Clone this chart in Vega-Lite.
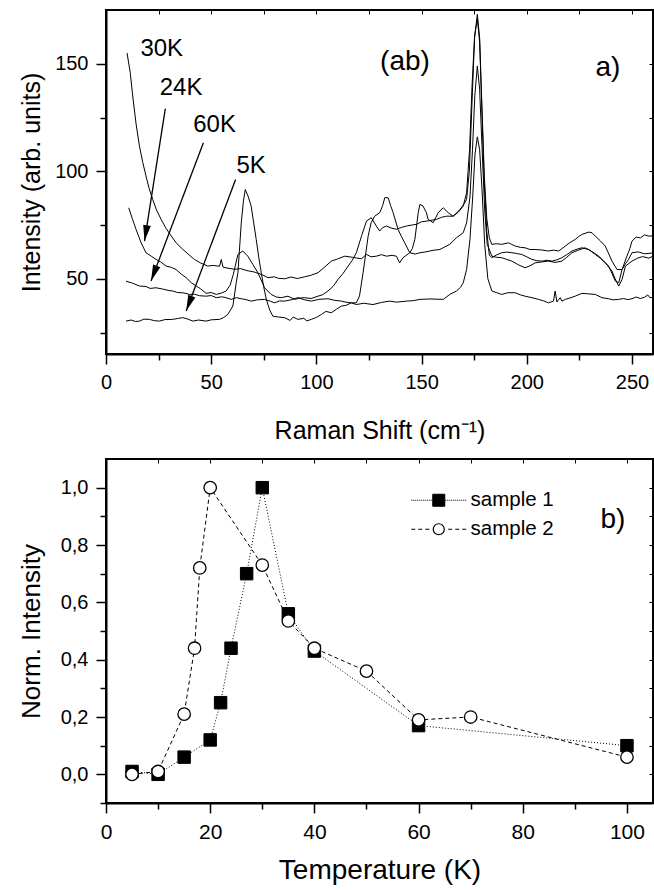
{
  "$schema": "https://vega.github.io/schema/vega-lite/v6.json",
  "padding": {"left": 17, "top": 8, "right": 2, "bottom": 5},
  "bounds": "flush",
  "spacing": 105,
  "config": {
    "font": "Liberation Sans",
    "view": {"stroke": "black", "strokeWidth": 2},
    "axis": {"domainColor": "black", "domainWidth": 2, "tickColor": "black", "tickWidth": 1.5, "labelColor": "black", "titleColor": "black", "labelFont": "Liberation Sans", "titleFont": "Liberation Sans", "titleFontWeight": "normal", "grid": false, "labelFlush": false, "labelOverlap": false},
    "legend": {"labelFont": "Liberation Sans", "labelColor": "black"},
    "text": {"font": "Liberation Sans", "color": "black"}
  },
  "datasets": {
    "spectra": [
      {"T":"30K","shift":10,"int":155},{"T":"30K","shift":11.5,"int":146},{"T":"30K","shift":12.7,"int":135},{"T":"30K","shift":14.3,"int":122},{"T":"30K","shift":15.9,"int":111.7},{"T":"30K","shift":17.5,"int":104},{"T":"30K","shift":19,"int":97.8},{"T":"30K","shift":20.5,"int":92},{"T":"30K","shift":22.2,"int":86.9},{"T":"30K","shift":24,"int":82},{"T":"30K","shift":26.2,"int":77.6},{"T":"30K","shift":28.5,"int":73.5},{"T":"30K","shift":31,"int":69.9},{"T":"30K","shift":33.5,"int":66.5},{"T":"30K","shift":36.5,"int":63.7},{"T":"30K","shift":39,"int":61.5},{"T":"30K","shift":42,"int":59},{"T":"30K","shift":45,"int":57.3},{"T":"30K","shift":48.4,"int":55.9},{"T":"30K","shift":51,"int":56.2},{"T":"30K","shift":54,"int":55.8},{"T":"30K","shift":54.8,"int":59},{"T":"30K","shift":55.6,"int":55.4},{"T":"30K","shift":58,"int":54.9},{"T":"30K","shift":61.1,"int":54.4},{"T":"30K","shift":64,"int":54.7},{"T":"30K","shift":67,"int":53.8},{"T":"30K","shift":70.6,"int":53.1},{"T":"30K","shift":74,"int":52},{"T":"30K","shift":77,"int":50.5},{"T":"30K","shift":80,"int":50.9},{"T":"30K","shift":82,"int":50.2},{"T":"30K","shift":84.9,"int":50},{"T":"30K","shift":88,"int":50.8},{"T":"30K","shift":91,"int":50.1},{"T":"30K","shift":94.4,"int":50.9},{"T":"30K","shift":97,"int":51.5},{"T":"30K","shift":100.8,"int":52.8},{"T":"30K","shift":104,"int":55.5},{"T":"30K","shift":107.1,"int":58.2},{"T":"30K","shift":110,"int":59.2},{"T":"30K","shift":113.5,"int":60.5},{"T":"30K","shift":117,"int":60},{"T":"30K","shift":121.4,"int":59.3},{"T":"30K","shift":123.8,"int":61.3},{"T":"30K","shift":126,"int":60.2},{"T":"30K","shift":128.5,"int":60.5},{"T":"30K","shift":131,"int":61.2},{"T":"30K","shift":133.3,"int":60.5},{"T":"30K","shift":136,"int":60.9},{"T":"30K","shift":138,"int":60.5},{"T":"30K","shift":139.6,"int":57.4},{"T":"30K","shift":141.2,"int":59.8},{"T":"30K","shift":144.4,"int":62.1},{"T":"30K","shift":147,"int":61.5},{"T":"30K","shift":149.2,"int":62.1},{"T":"30K","shift":151.5,"int":62.4},{"T":"30K","shift":153.9,"int":62.9},{"T":"30K","shift":156,"int":63.3},{"T":"30K","shift":158.7,"int":63.6},{"T":"30K","shift":161,"int":64.8},{"T":"30K","shift":163.4,"int":66},{"T":"30K","shift":166.6,"int":69.1},{"T":"30K","shift":169.8,"int":71.4},{"T":"30K","shift":171.4,"int":76},{"T":"30K","shift":173,"int":88},{"T":"30K","shift":174.2,"int":110},{"T":"30K","shift":175.3,"int":135},{"T":"30K","shift":176.5,"int":149},{"T":"30K","shift":177.6,"int":138},{"T":"30K","shift":178.7,"int":112},{"T":"30K","shift":180,"int":82},{"T":"30K","shift":181.2,"int":66},{"T":"30K","shift":183.4,"int":60.5},{"T":"30K","shift":185.5,"int":60},{"T":"30K","shift":188.1,"int":59.8},{"T":"30K","shift":190.5,"int":59},{"T":"30K","shift":192.9,"int":58.2},{"T":"30K","shift":196,"int":56.5},{"T":"30K","shift":199.2,"int":55.1},{"T":"30K","shift":201.5,"int":56},{"T":"30K","shift":204,"int":57.4},{"T":"30K","shift":207,"int":57.8},{"T":"30K","shift":210.3,"int":58.2},{"T":"30K","shift":213.5,"int":57.6},{"T":"30K","shift":216.7,"int":58.2},{"T":"30K","shift":219,"int":60},{"T":"30K","shift":221.5,"int":62.1},{"T":"30K","shift":224.5,"int":63.3},{"T":"30K","shift":227.8,"int":64.4},{"T":"30K","shift":230,"int":63.2},{"T":"30K","shift":232.6,"int":61.3},{"T":"30K","shift":235,"int":59.5},{"T":"30K","shift":237.3,"int":57.4},{"T":"30K","shift":240.5,"int":53.6},{"T":"30K","shift":242,"int":50},{"T":"30K","shift":243.7,"int":46.6},{"T":"30K","shift":245.3,"int":49.7},{"T":"30K","shift":246.9,"int":55.9},{"T":"30K","shift":250,"int":58.2},{"T":"30K","shift":252.5,"int":59.5},{"T":"30K","shift":255,"int":60.3},{"T":"30K","shift":258,"int":59.6},{"T":"30K","shift":260,"int":60.5},
      {"T":"24K","shift":10.8,"int":83},{"T":"24K","shift":12.5,"int":78},{"T":"24K","shift":14.3,"int":72.9},{"T":"24K","shift":16.7,"int":66.7},{"T":"24K","shift":19,"int":62.1},{"T":"24K","shift":21.5,"int":60.5},{"T":"24K","shift":23.8,"int":59},{"T":"24K","shift":26,"int":57.8},{"T":"24K","shift":28.6,"int":55.9},{"T":"24K","shift":31,"int":55.3},{"T":"24K","shift":33.3,"int":54.3},{"T":"24K","shift":35.7,"int":52.2},{"T":"24K","shift":38.1,"int":50.5},{"T":"24K","shift":40.5,"int":48.2},{"T":"24K","shift":42.9,"int":46.6},{"T":"24K","shift":45,"int":45.3},{"T":"24K","shift":47.6,"int":43.2},{"T":"24K","shift":50,"int":43.6},{"T":"24K","shift":52.4,"int":42.7},{"T":"24K","shift":55,"int":43.4},{"T":"24K","shift":57.1,"int":44.3},{"T":"24K","shift":59,"int":47},{"T":"24K","shift":60.5,"int":52},{"T":"24K","shift":62.7,"int":61.3},{"T":"24K","shift":65,"int":62.9},{"T":"24K","shift":67.4,"int":60.5},{"T":"24K","shift":69.8,"int":56.7},{"T":"24K","shift":72.2,"int":52.8},{"T":"24K","shift":75.4,"int":45.8},{"T":"24K","shift":78.5,"int":42.7},{"T":"24K","shift":81,"int":41.5},{"T":"24K","shift":83.3,"int":41.2},{"T":"24K","shift":86.5,"int":41.9},{"T":"24K","shift":89.7,"int":40.4},{"T":"24K","shift":92,"int":41},{"T":"24K","shift":94.4,"int":41.2},{"T":"24K","shift":97.5,"int":40.8},{"T":"24K","shift":100.8,"int":41.9},{"T":"24K","shift":103,"int":42.6},{"T":"24K","shift":105.5,"int":44.3},{"T":"24K","shift":108,"int":46.5},{"T":"24K","shift":110.3,"int":49.7},{"T":"24K","shift":112.7,"int":52.5},{"T":"24K","shift":115.1,"int":55.9},{"T":"24K","shift":117,"int":58.5},{"T":"24K","shift":119,"int":62.1},{"T":"24K","shift":121.5,"int":70},{"T":"24K","shift":123.8,"int":76.8},{"T":"24K","shift":126.1,"int":78.4},{"T":"24K","shift":128.5,"int":74.5},{"T":"24K","shift":130.1,"int":72.2},{"T":"24K","shift":131.5,"int":73.8},{"T":"24K","shift":133.3,"int":74.5},{"T":"24K","shift":135.5,"int":73.6},{"T":"24K","shift":138,"int":73},{"T":"24K","shift":140.5,"int":73.9},{"T":"24K","shift":142.8,"int":74.5},{"T":"24K","shift":145,"int":74.9},{"T":"24K","shift":147.6,"int":75.3},{"T":"24K","shift":150,"int":76.5},{"T":"24K","shift":152.3,"int":76.8},{"T":"24K","shift":154.5,"int":77.2},{"T":"24K","shift":157.1,"int":77.6},{"T":"24K","shift":159.5,"int":78.6},{"T":"24K","shift":161.9,"int":79.1},{"T":"24K","shift":165,"int":79.1},{"T":"24K","shift":167.5,"int":81},{"T":"24K","shift":169.8,"int":83.8},{"T":"24K","shift":171.4,"int":90},{"T":"24K","shift":172.8,"int":110},{"T":"24K","shift":174,"int":140},{"T":"24K","shift":175.2,"int":163},{"T":"24K","shift":176.5,"int":171},{"T":"24K","shift":177.6,"int":160},{"T":"24K","shift":178.6,"int":130},{"T":"24K","shift":179.8,"int":95},{"T":"24K","shift":181,"int":72},{"T":"24K","shift":182.2,"int":61},{"T":"24K","shift":183.4,"int":59.8},{"T":"24K","shift":185.5,"int":61},{"T":"24K","shift":188.1,"int":62.1},{"T":"24K","shift":190.5,"int":62.4},{"T":"24K","shift":192.9,"int":62.1},{"T":"24K","shift":195,"int":61.8},{"T":"24K","shift":197.6,"int":61.3},{"T":"24K","shift":200,"int":60.2},{"T":"24K","shift":202.4,"int":59},{"T":"24K","shift":204.8,"int":58.4},{"T":"24K","shift":207.2,"int":58.2},{"T":"24K","shift":209.6,"int":58.6},{"T":"24K","shift":212,"int":58.2},{"T":"24K","shift":214.3,"int":58.8},{"T":"24K","shift":216.7,"int":59.8},{"T":"24K","shift":219,"int":61.2},{"T":"24K","shift":221.5,"int":62.9},{"T":"24K","shift":224,"int":63.8},{"T":"24K","shift":226.2,"int":64.4},{"T":"24K","shift":229.4,"int":63.6},{"T":"24K","shift":232,"int":62},{"T":"24K","shift":234.2,"int":60.5},{"T":"24K","shift":236.5,"int":58.3},{"T":"24K","shift":238.9,"int":55.9},{"T":"24K","shift":240.5,"int":52.5},{"T":"24K","shift":242.1,"int":48.9},{"T":"24K","shift":243.7,"int":48.1},{"T":"24K","shift":245.3,"int":54.3},{"T":"24K","shift":246.9,"int":57},{"T":"24K","shift":248.4,"int":59},{"T":"24K","shift":250,"int":62.1},{"T":"24K","shift":253,"int":62.5},{"T":"24K","shift":256,"int":61.6},{"T":"24K","shift":260,"int":62},
      {"T":"60K","shift":9.5,"int":48.9},{"T":"60K","shift":12.5,"int":48},{"T":"60K","shift":15.9,"int":46.6},{"T":"60K","shift":19,"int":46.4},{"T":"60K","shift":21,"int":45.5},{"T":"60K","shift":23.8,"int":45.8},{"T":"60K","shift":27,"int":45.2},{"T":"60K","shift":29.5,"int":44.6},{"T":"60K","shift":31.7,"int":44.3},{"T":"60K","shift":34,"int":43.6},{"T":"60K","shift":37,"int":43.4},{"T":"60K","shift":39.7,"int":42.7},{"T":"60K","shift":42,"int":42.8},{"T":"60K","shift":44.5,"int":42.1},{"T":"60K","shift":47.6,"int":41.9},{"T":"60K","shift":50,"int":42.2},{"T":"60K","shift":52.4,"int":41.2},{"T":"60K","shift":55,"int":41.6},{"T":"60K","shift":57,"int":41.2},{"T":"60K","shift":59.5,"int":40.4},{"T":"60K","shift":61.9,"int":41.2},{"T":"60K","shift":64.3,"int":40.7},{"T":"60K","shift":66.5,"int":40.3},{"T":"60K","shift":69,"int":39.6},{"T":"60K","shift":72,"int":40.2},{"T":"60K","shift":75.4,"int":40.4},{"T":"60K","shift":78,"int":39.6},{"T":"60K","shift":80.1,"int":38.8},{"T":"60K","shift":82.5,"int":39.7},{"T":"60K","shift":84.9,"int":39.6},{"T":"60K","shift":88,"int":40.2},{"T":"60K","shift":91.2,"int":41.2},{"T":"60K","shift":94.5,"int":40.2},{"T":"60K","shift":97.6,"int":39.6},{"T":"60K","shift":101,"int":40.4},{"T":"60K","shift":105.5,"int":40.7},{"T":"60K","shift":108.5,"int":40},{"T":"60K","shift":111.9,"int":39.6},{"T":"60K","shift":114,"int":39.1},{"T":"60K","shift":116.6,"int":38.8},{"T":"60K","shift":119,"int":38},{"T":"60K","shift":122.5,"int":38.6},{"T":"60K","shift":126.9,"int":38},{"T":"60K","shift":131,"int":39},{"T":"60K","shift":134.9,"int":39.6},{"T":"60K","shift":138,"int":39.1},{"T":"60K","shift":142.8,"int":39.6},{"T":"60K","shift":146,"int":39.8},{"T":"60K","shift":149.2,"int":40.4},{"T":"60K","shift":154,"int":40.6},{"T":"60K","shift":160.3,"int":40.4},{"T":"60K","shift":163.4,"int":42.7},{"T":"60K","shift":166.6,"int":44.3},{"T":"60K","shift":168.5,"int":46},{"T":"60K","shift":169.8,"int":48.1},{"T":"60K","shift":171.4,"int":54.3},{"T":"60K","shift":173,"int":68.3},{"T":"60K","shift":174.3,"int":88},{"T":"60K","shift":175.4,"int":108},{"T":"60K","shift":176.5,"int":116},{"T":"60K","shift":177.6,"int":110},{"T":"60K","shift":178.7,"int":92},{"T":"60K","shift":180,"int":66},{"T":"60K","shift":181.5,"int":50},{"T":"60K","shift":183.4,"int":44.3},{"T":"60K","shift":185.5,"int":43.6},{"T":"60K","shift":188.1,"int":42.7},{"T":"60K","shift":191,"int":43.5},{"T":"60K","shift":194.5,"int":43.5},{"T":"60K","shift":197,"int":42.5},{"T":"60K","shift":199.2,"int":41.9},{"T":"60K","shift":202,"int":41.3},{"T":"60K","shift":205.6,"int":40.4},{"T":"60K","shift":208,"int":39.7},{"T":"60K","shift":210.3,"int":38.8},{"T":"60K","shift":212.7,"int":39.6},{"T":"60K","shift":213.5,"int":44.3},{"T":"60K","shift":214.3,"int":39.2},{"T":"60K","shift":215.9,"int":41.2},{"T":"60K","shift":216.7,"int":39.6},{"T":"60K","shift":218.3,"int":40.4},{"T":"60K","shift":221,"int":41.2},{"T":"60K","shift":223,"int":41.9},{"T":"60K","shift":226.2,"int":43.2},{"T":"60K","shift":229,"int":43},{"T":"60K","shift":232.6,"int":42.7},{"T":"60K","shift":235.7,"int":41.2},{"T":"60K","shift":238.9,"int":40.7},{"T":"60K","shift":241,"int":40.2},{"T":"60K","shift":243.7,"int":40.4},{"T":"60K","shift":246,"int":40.8},{"T":"60K","shift":248,"int":40.3},{"T":"60K","shift":250,"int":40.7},{"T":"60K","shift":252,"int":41.5},{"T":"60K","shift":254,"int":40.8},{"T":"60K","shift":256,"int":41.4},{"T":"60K","shift":257.5,"int":42.5},{"T":"60K","shift":258.5,"int":41.2},{"T":"60K","shift":260,"int":41.3},
      {"T":"5K","shift":9.5,"int":30.3},{"T":"5K","shift":12,"int":30.8},{"T":"5K","shift":14,"int":30.1},{"T":"5K","shift":15.9,"int":30.3},{"T":"5K","shift":18,"int":31.2},{"T":"5K","shift":20.6,"int":31.1},{"T":"5K","shift":23,"int":30.5},{"T":"5K","shift":25.4,"int":30.3},{"T":"5K","shift":28,"int":31},{"T":"5K","shift":31.7,"int":31.1},{"T":"5K","shift":34,"int":31.5},{"T":"5K","shift":36.5,"int":31.9},{"T":"5K","shift":39,"int":31.2},{"T":"5K","shift":41.3,"int":30.3},{"T":"5K","shift":44,"int":30.8},{"T":"5K","shift":47.6,"int":30.3},{"T":"5K","shift":50,"int":30.9},{"T":"5K","shift":54,"int":31.1},{"T":"5K","shift":56,"int":32},{"T":"5K","shift":57.9,"int":33.4},{"T":"5K","shift":60.3,"int":37.3},{"T":"5K","shift":61.9,"int":48.1},{"T":"5K","shift":62.7,"int":52.8},{"T":"5K","shift":64.3,"int":76},{"T":"5K","shift":65.3,"int":86},{"T":"5K","shift":66.2,"int":91.5},{"T":"5K","shift":67.5,"int":88.5},{"T":"5K","shift":69,"int":83.8},{"T":"5K","shift":70.2,"int":76},{"T":"5K","shift":71.4,"int":68.3},{"T":"5K","shift":72.6,"int":60},{"T":"5K","shift":73.8,"int":52.8},{"T":"5K","shift":75,"int":46},{"T":"5K","shift":76.2,"int":40.4},{"T":"5K","shift":77.8,"int":35.5},{"T":"5K","shift":79.3,"int":32.6},{"T":"5K","shift":82,"int":32.2},{"T":"5K","shift":84.9,"int":31.9},{"T":"5K","shift":87.5,"int":30.6},{"T":"5K","shift":89,"int":32.2},{"T":"5K","shift":91.2,"int":31.1},{"T":"5K","shift":94,"int":31.6},{"T":"5K","shift":95.5,"int":30.4},{"T":"5K","shift":97.6,"int":31.1},{"T":"5K","shift":100,"int":32},{"T":"5K","shift":102.4,"int":33.4},{"T":"5K","shift":104.5,"int":34.8},{"T":"5K","shift":107.1,"int":34.2},{"T":"5K","shift":109.5,"int":35.8},{"T":"5K","shift":111.9,"int":37.3},{"T":"5K","shift":114,"int":37.6},{"T":"5K","shift":116.6,"int":38.8},{"T":"5K","shift":119,"int":38.8},{"T":"5K","shift":120.5,"int":42},{"T":"5K","shift":122.2,"int":52.8},{"T":"5K","shift":124.6,"int":69.8},{"T":"5K","shift":126,"int":76},{"T":"5K","shift":127.7,"int":79.1},{"T":"5K","shift":130.1,"int":80.7},{"T":"5K","shift":131.5,"int":84},{"T":"5K","shift":132.5,"int":87.7},{"T":"5K","shift":134.1,"int":87.7},{"T":"5K","shift":135.3,"int":84},{"T":"5K","shift":136.5,"int":80.7},{"T":"5K","shift":138.8,"int":73},{"T":"5K","shift":140.5,"int":69.5},{"T":"5K","shift":142,"int":66.7},{"T":"5K","shift":144.4,"int":62.1},{"T":"5K","shift":145.6,"int":64},{"T":"5K","shift":146.8,"int":68.3},{"T":"5K","shift":148.4,"int":80.7},{"T":"5K","shift":149.2,"int":84.6},{"T":"5K","shift":150.7,"int":83.8},{"T":"5K","shift":152.3,"int":80.7},{"T":"5K","shift":153.1,"int":77.6},{"T":"5K","shift":155.5,"int":76.1},{"T":"5K","shift":157.9,"int":80.7},{"T":"5K","shift":160.3,"int":83},{"T":"5K","shift":162.7,"int":80.7},{"T":"5K","shift":165,"int":79.1},{"T":"5K","shift":166.6,"int":80.5},{"T":"5K","shift":168.2,"int":82.2},{"T":"5K","shift":170,"int":84.5},{"T":"5K","shift":171.4,"int":86.9},{"T":"5K","shift":172.7,"int":100},{"T":"5K","shift":173.9,"int":130},{"T":"5K","shift":175.2,"int":162},{"T":"5K","shift":176.5,"int":173},{"T":"5K","shift":177.6,"int":162},{"T":"5K","shift":178.6,"int":133},{"T":"5K","shift":179.8,"int":98},{"T":"5K","shift":181,"int":78},{"T":"5K","shift":182.2,"int":69},{"T":"5K","shift":183.4,"int":66},{"T":"5K","shift":185.5,"int":66.3},{"T":"5K","shift":188.1,"int":66},{"T":"5K","shift":191.3,"int":66.7},{"T":"5K","shift":192.8,"int":66},{"T":"5K","shift":194.5,"int":65.2},{"T":"5K","shift":197,"int":64.6},{"T":"5K","shift":199.2,"int":64.4},{"T":"5K","shift":201.5,"int":63.6},{"T":"5K","shift":204,"int":63.6},{"T":"5K","shift":207,"int":63.4},{"T":"5K","shift":210.3,"int":62.9},{"T":"5K","shift":212.6,"int":63.3},{"T":"5K","shift":215.1,"int":62.9},{"T":"5K","shift":216.7,"int":64},{"T":"5K","shift":218.3,"int":65.2},{"T":"5K","shift":220.5,"int":66.8},{"T":"5K","shift":223,"int":68.3},{"T":"5K","shift":224.6,"int":69.6},{"T":"5K","shift":226.2,"int":70.6},{"T":"5K","shift":229.4,"int":71.7},{"T":"5K","shift":231,"int":71.4},{"T":"5K","shift":232.6,"int":69.8},{"T":"5K","shift":235,"int":67.6},{"T":"5K","shift":237.3,"int":65.2},{"T":"5K","shift":239,"int":61.5},{"T":"5K","shift":240.5,"int":58.2},{"T":"5K","shift":242.9,"int":54.3},{"T":"5K","shift":245.3,"int":54.3},{"T":"5K","shift":247.6,"int":60.5},{"T":"5K","shift":249,"int":64},{"T":"5K","shift":250,"int":67.5},{"T":"5K","shift":252,"int":69.4},{"T":"5K","shift":254,"int":69},{"T":"5K","shift":256,"int":70.4},{"T":"5K","shift":258,"int":69.8},{"T":"5K","shift":260,"int":70}
    ],
    "arrows": [
      {"label":"24K","x0":28.2,"y0":129.1,"x1":18.3,"y1":67.5},
      {"label":"60K","x0":46.3,"y0":113.3,"x1":21.4,"y1":49},
      {"label":"5K","x0":61.6,"y0":96.2,"x1":38.1,"y1":35}
    ],
    "notes_a": [
      {"shift":26.5,"int":157,"label":"30K"},
      {"shift":35.7,"int":138.8,"label":"24K"},
      {"shift":51.6,"int":121.3,"label":"60K"},
      {"shift":69,"int":102.4,"label":"5K"},
      {"shift":142.1,"int":150.9,"label":"(ab)"},
      {"shift":238.6,"int":148.1,"label":"a)"}
    ],
    "temps": [
      {"sample":"sample 1","temp":5,"norm":0.01},{"sample":"sample 1","temp":10,"norm":0.0},{"sample":"sample 1","temp":15,"norm":0.06},{"sample":"sample 1","temp":20,"norm":0.12},{"sample":"sample 1","temp":22,"norm":0.25},{"sample":"sample 1","temp":24,"norm":0.44},{"sample":"sample 1","temp":27,"norm":0.70},{"sample":"sample 1","temp":30,"norm":1.0},{"sample":"sample 1","temp":35,"norm":0.56},{"sample":"sample 1","temp":40,"norm":0.43},{"sample":"sample 1","temp":60,"norm":0.17},{"sample":"sample 1","temp":100,"norm":0.10},
      {"sample":"sample 2","temp":5,"norm":0.0},{"sample":"sample 2","temp":10,"norm":0.01},{"sample":"sample 2","temp":15,"norm":0.21},{"sample":"sample 2","temp":17,"norm":0.44},{"sample":"sample 2","temp":18,"norm":0.72},{"sample":"sample 2","temp":20,"norm":1.0},{"sample":"sample 2","temp":30,"norm":0.73},{"sample":"sample 2","temp":35,"norm":0.535},{"sample":"sample 2","temp":40,"norm":0.44},{"sample":"sample 2","temp":50,"norm":0.36},{"sample":"sample 2","temp":60,"norm":0.19},{"sample":"sample 2","temp":70,"norm":0.2},{"sample":"sample 2","temp":100,"norm":0.06}
    ],
    "notes_b": [
      {"temp":97.3,"norm":0.888,"label":"b)"}
    ]
  },
  "vconcat": [
    {
      "width": 547,
      "height": 344,
      "resolve": {"axis": {"x": "independent", "y": "independent"}},
      "layer": [
        {
          "data": {"name": "spectra"},
          "mark": {"type": "line", "color": "black", "strokeWidth": 1},
          "encoding": {
            "x": {"field": "shift", "type": "quantitative", "scale": {"domain": [0, 260], "nice": false, "zero": false},
              "axis": {"orient": "bottom", "title": "Raman Shift (cm⁻¹)", "values": [0,25,50,75,100,125,150,175,200,225,250],
                "labelExpr": "datum.value % 50 === 0 ? datum.label : ''",
                "tickSize": {"condition": {"test": "datum.value % 50 === 0", "value": 10}, "value": 6},
                "labelFontSize": 20, "labelPadding": 8, "titleFontSize": 25, "titleY": 76, "titleBaseline": "middle"}},
            "y": {"field": "int", "type": "quantitative", "scale": {"domain": [15, 175], "nice": false, "zero": false},
              "axis": {"orient": "left", "title": "Intensity (arb. units)", "values": [25,50,75,100,125,150],
                "labelExpr": "datum.value % 50 === 0 ? datum.label : ''",
                "tickSize": {"condition": {"test": "datum.value % 50 === 0", "value": 10}, "value": 6},
                "labelFontSize": 20, "labelPadding": 8, "titleFontSize": 25, "titleX": -75, "titleY": 172, "titleBaseline": "middle"}},
            "detail": {"field": "T", "type": "nominal"}
          }
        },
        {
          "data": {"name": "notes_a"},
          "mark": {"type": "text", "align": "center", "baseline": "middle"},
          "encoding": {
            "x": {"field": "shift", "type": "quantitative", "scale": {"domain": [0, 260], "nice": false, "zero": false},
              "axis": {"orient": "top", "labels": false, "title": null, "domain": false, "tickSize": -4, "tickWidth": 1, "values": [25,50,75,100,125,150,175,200,225,250]}},
            "y": {"field": "int", "type": "quantitative", "scale": {"domain": [15, 175], "nice": false, "zero": false},
              "axis": {"orient": "right", "labels": false, "title": null, "domain": false, "tickSize": -4, "tickWidth": 1, "values": [25,50,75,100,125,150]}},
            "text": {"field": "label", "type": "nominal"},
            "size": {"condition": {"test": "datum.label === '(ab)' || datum.label === 'a)'", "value": 28}, "value": 24}
          }
        },
        {
          "data": {"name": "arrows"},
          "mark": {"type": "rule", "color": "black", "strokeWidth": 1.3},
          "encoding": {
            "x": {"field": "x0", "type": "quantitative", "scale": {"domain": [0, 260], "nice": false, "zero": false}, "axis": null},
            "y": {"field": "y0", "type": "quantitative", "scale": {"domain": [15, 175], "nice": false, "zero": false}, "axis": null},
            "x2": {"field": "x1"},
            "y2": {"field": "y1"}
          }
        },
        {
          "data": {"name": "arrows"},
          "mark": {"type": "point", "shape": "M0,0L0.24,1L-0.24,1Z", "filled": true, "color": "black", "opacity": 1, "size": 1024},
          "encoding": {
            "x": {"field": "x1", "type": "quantitative", "scale": {"domain": [0, 260], "nice": false, "zero": false}, "axis": null},
            "y": {"field": "y1", "type": "quantitative", "scale": {"domain": [15, 175], "nice": false, "zero": false}, "axis": null},
            "angle": {"condition": {"test": "datum.label === '24K'", "value": 189}, "value": 200.7}
          }
        }
      ]
    },
    {
      "width": 547,
      "height": 344,
      "resolve": {"axis": {"x": "independent", "y": "independent"}, "scale": {"stroke": "independent"}, "legend": {"stroke": "independent"}},
      "layer": [
        {
          "data": {"name": "temps"},
          "transform": [{"filter": "datum.sample === 'sample 1'"}],
          "mark": {"type": "line", "color": "black", "strokeWidth": 1, "strokeDash": [1, 2]},
          "encoding": {
            "x": {"field": "temp", "type": "quantitative", "scale": {"domain": [0, 105], "nice": false, "zero": false},
              "axis": {"orient": "bottom", "title": "Temperature (K)", "values": [0,10,20,30,40,50,60,70,80,90,100],
                "labelExpr": "datum.value % 20 === 0 ? datum.label : ''",
                "tickSize": {"condition": {"test": "datum.value % 20 === 0", "value": 10}, "value": 6},
                "labelFontSize": 21, "labelPadding": 8, "titleFontSize": 28, "titleY": 67, "titleBaseline": "middle"}},
            "y": {"field": "norm", "type": "quantitative", "scale": {"domain": [-0.1, 1.1], "nice": false, "zero": false},
              "axis": {"orient": "left", "title": "Norm. Intensity", "values": [-0.1,0,0.1,0.2,0.3,0.4,0.5,0.6,0.7,0.8,0.9,1.0],
                "labelExpr": "abs(round(datum.value*10)) % 2 === 0 ? replace(format(datum.value, '.1f'), '.', ',') : ''",
                "tickSize": {"condition": {"test": "abs(round(datum.value*10)) % 2 === 0", "value": 10}, "value": 6},
                "labelFontSize": 20, "labelPadding": 8, "titleFontSize": 26, "titleX": -75, "titleY": 172, "titleBaseline": "middle"}}
          }
        },
        {
          "data": {"name": "temps"},
          "transform": [{"filter": "datum.sample === 'sample 2'"}],
          "mark": {"type": "line", "color": "black", "strokeWidth": 1, "strokeDash": [4, 3]},
          "encoding": {
            "x": {"field": "temp", "type": "quantitative", "scale": {"domain": [0, 105], "nice": false, "zero": false}, "axis": null},
            "y": {"field": "norm", "type": "quantitative", "scale": {"domain": [-0.1, 1.1], "nice": false, "zero": false}, "axis": null}
          }
        },
        {
          "data": {"name": "temps"},
          "transform": [{"filter": "datum.sample === 'sample 1'"}],
          "mark": {"type": "point", "shape": "square", "filled": true, "fill": "black", "strokeWidth": 1, "size": 155, "opacity": 1},
          "encoding": {
            "x": {"field": "temp", "type": "quantitative", "scale": {"domain": [0, 105], "nice": false, "zero": false}, "axis": null},
            "y": {"field": "norm", "type": "quantitative", "scale": {"domain": [-0.1, 1.1], "nice": false, "zero": false}, "axis": null},
            "stroke": {"field": "sample", "type": "nominal", "scale": {"domain": ["sample 1"], "range": ["black"]},
              "legend": {"title": null, "orient": "none", "legendX": 322.5, "legendY": 31, "padding": 0, "labelFontSize": 20.5, "symbolSize": 144,
                "symbolType": "M-1,-1H1V1H-1ZM-4.58,0h0.17M-4.25,0h0.17M-3.92,0h0.17M-3.58,0h0.17M-3.25,0h0.17M-2.92,0h0.17M-2.58,0h0.17M-2.25,0h0.17M-1.92,0h0.17M-1.58,0h0.17M-1.25,0h0.17M1.08,0h0.17M1.42,0h0.17M1.75,0h0.17M2.08,0h0.17M2.42,0h0.17M2.75,0h0.17M3.08,0h0.17M3.42,0h0.17M3.75,0h0.17M4.08,0h0.17M4.41,0h0.17",
                "symbolFillColor": "black", "symbolStrokeWidth": 1, "symbolOpacity": 1, "labelOffset": 21.5}}
          }
        },
        {
          "data": {"name": "temps"},
          "transform": [{"filter": "datum.sample === 'sample 2'"}],
          "mark": {"type": "point", "shape": "circle", "filled": true, "fill": "white", "strokeWidth": 1.3, "size": 155, "opacity": 1},
          "encoding": {
            "x": {"field": "temp", "type": "quantitative", "scale": {"domain": [0, 105], "nice": false, "zero": false}, "axis": null},
            "y": {"field": "norm", "type": "quantitative", "scale": {"domain": [-0.1, 1.1], "nice": false, "zero": false}, "axis": null},
            "stroke": {"field": "sample", "type": "nominal", "scale": {"domain": ["sample 2"], "range": ["black"]},
              "legend": {"title": null, "orient": "none", "legendX": 322.5, "legendY": 60, "padding": 0, "labelFontSize": 20.5, "symbolSize": 144,
                "symbolType": "M0.92,0A0.92,0.92 0 1,1 -0.92,0A0.92,0.92 0 1,1 0.92,0ZM-4.58,0H-3.91M-3.41,0H-2.74M-2.24,0H-1.57M1.57,0H2.24M2.74,0H3.41M3.91,0H4.58",
                "symbolFillColor": "white", "symbolStrokeWidth": 1.2, "symbolOpacity": 1, "labelOffset": 21.5}}
          }
        },
        {
          "data": {"name": "notes_b"},
          "mark": {"type": "text", "align": "center", "baseline": "middle", "fontSize": 28},
          "encoding": {
            "x": {"field": "temp", "type": "quantitative", "scale": {"domain": [0, 105], "nice": false, "zero": false},
              "axis": {"orient": "top", "labels": false, "title": null, "domain": false, "tickSize": -4, "tickWidth": 1, "values": [10,20,30,40,50,60,70,80,90,100]}},
            "y": {"field": "norm", "type": "quantitative", "scale": {"domain": [-0.1, 1.1], "nice": false, "zero": false},
              "axis": {"orient": "right", "labels": false, "title": null, "domain": false, "tickSize": -4, "tickWidth": 1, "values": [-0.1,0,0.1,0.2,0.3,0.4,0.5,0.6,0.7,0.8,0.9,1.0]}},
            "text": {"field": "label", "type": "nominal"}
          }
        }
      ]
    }
  ]
}
